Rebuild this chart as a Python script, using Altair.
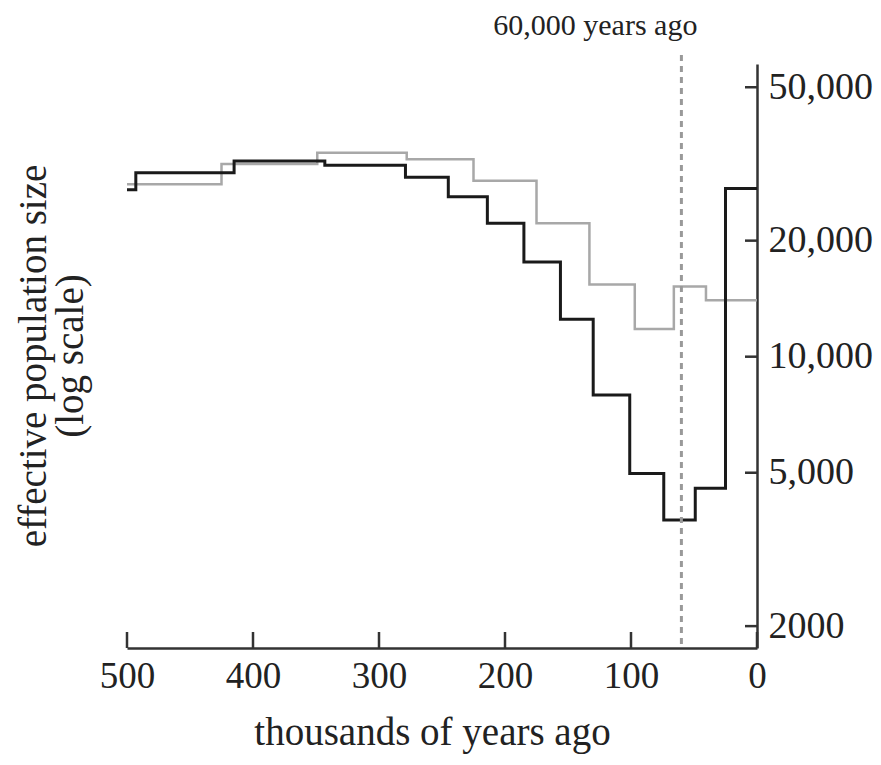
import altair as alt
import pandas as pd

# step boundaries (thousands of years ago) and effective population sizes
black_edges = [500, 493, 415, 343, 279, 245, 214, 185, 156, 130, 101, 74, 49, 25, 0]
black_sizes = [27100, 30000, 32200, 31400, 29200, 26000, 22200, 17600, 12500, 7950, 4980, 3770, 4560, 27300]
gray_edges = [500, 425, 349, 278, 225, 175, 133, 97, 66, 40.5, 0]
gray_sizes = [28000, 31600, 33800, 32500, 28600, 22200, 15400, 11800, 15200, 14000]

x_ticks = [500, 400, 300, 200, 100, 0]
y_ticks = [2000, 5000, 10000, 20000, 50000]
event_time = [60]
event_label = "60,000 years ago"
x_title = "thousands of years ago"
y_title = ["effective population size", "(log scale)"]

FONT = "Liberation Serif"
W, H = 630, 584


def steps(edges, sizes, name):
    rows = []
    k = 0
    for i, s in enumerate(sizes):
        rows.append({"t": edges[i], "n": s, "o": k, "s": name}); k += 1
        rows.append({"t": edges[i + 1], "n": s, "o": k, "s": name}); k += 1
    return rows


df_black = pd.DataFrame(steps(black_edges, black_sizes, "black"))
df_gray = pd.DataFrame(steps(gray_edges, gray_sizes, "gray"))

xscale = alt.Scale(domain=[0, 500], reverse=True, nice=False, zero=False)
yscale = alt.Scale(type="log", domain=[1755, 57450], nice=False)

xaxis = alt.Axis(values=x_ticks, format="d", ticks=False, grid=False, labelFlush=False,
                 domainColor="#333333", domainWidth=2.5,
                 labelFont=FONT, labelFontSize=37, labelColor="#222222", labelPadding=10,
                 title=x_title, titleFont=FONT, titleFontSize=39, titleFontWeight="normal",
                 titleColor="#222222", titleX=305, titleY=96, titleAlign="center",
                 titleBaseline="alphabetic")
yaxis = alt.Axis(orient="right", values=y_ticks, ticks=False, grid=False,
                 labelExpr="datum.value == 2000 ? '2000' : format(datum.value, ',')",
                 domainColor="#333333", domainWidth=2.5,
                 labelFont=FONT, labelFontSize=38, labelColor="#222222", labelPadding=11,
                 labelBaseline="middle", labelFlush=False, title=None)

X = alt.X("t:Q", scale=xscale, axis=xaxis)
Y = alt.Y("n:Q", scale=yscale, axis=yaxis)

gray_line = alt.Chart(df_gray).mark_line(color="#a8a8a8", strokeWidth=2.5).encode(
    x=X, y=Y, order="o:Q",
)
black_line = alt.Chart(df_black).mark_line(color="#1a1a1a", strokeWidth=3).encode(
    x=X, y=Y, order="o:Q",
)

df_event = pd.DataFrame({"t": event_time})
dashed = alt.Chart(df_event).mark_rule(color="#999999", strokeWidth=3, strokeDash=[6, 5]).encode(
    x=X,
    y=alt.value(-9),
    y2=alt.value(H),
)
event_text = alt.Chart(df_event).mark_text(
    text=event_label, font=FONT, fontSize=30, color="#222222",
    align="right", baseline="alphabetic", dx=16,
).encode(
    x=X,
    y=alt.value(-29),
)

df_xt = pd.DataFrame({"t": x_ticks})
xtick_marks = alt.Chart(df_xt).mark_rule(color="#333333", strokeWidth=2.5).encode(
    x=X,
    y=alt.value(H),
    y2=alt.value(H - 16),
)
df_yt = pd.DataFrame({"n": y_ticks})
ytick_marks = alt.Chart(df_yt).mark_rule(color="#333333", strokeWidth=2.5).encode(
    y=Y,
    x=alt.value(W - 12),
    x2=alt.value(W),
)

ytitle = alt.Chart(pd.DataFrame({"a": [0]})).mark_text(
    text=y_title, font=FONT, fontSize=39, color="#222222", angle=270,
    align="center", baseline="middle", lineHeight=37,
).encode(x=alt.value(-93), y=alt.value(H / 2))

chart = alt.layer(
    gray_line, black_line, dashed, event_text, xtick_marks, ytick_marks, ytitle
).properties(
    width=W, height=H,
    background="white",
    autosize=alt.AutoSizeParams(type="none"),
    padding={"left": 119, "top": 56, "right": 116, "bottom": 109},
).configure_view(stroke=None)

chart.save("out.html", embed_options={"renderer": "svg", "actions": False})
